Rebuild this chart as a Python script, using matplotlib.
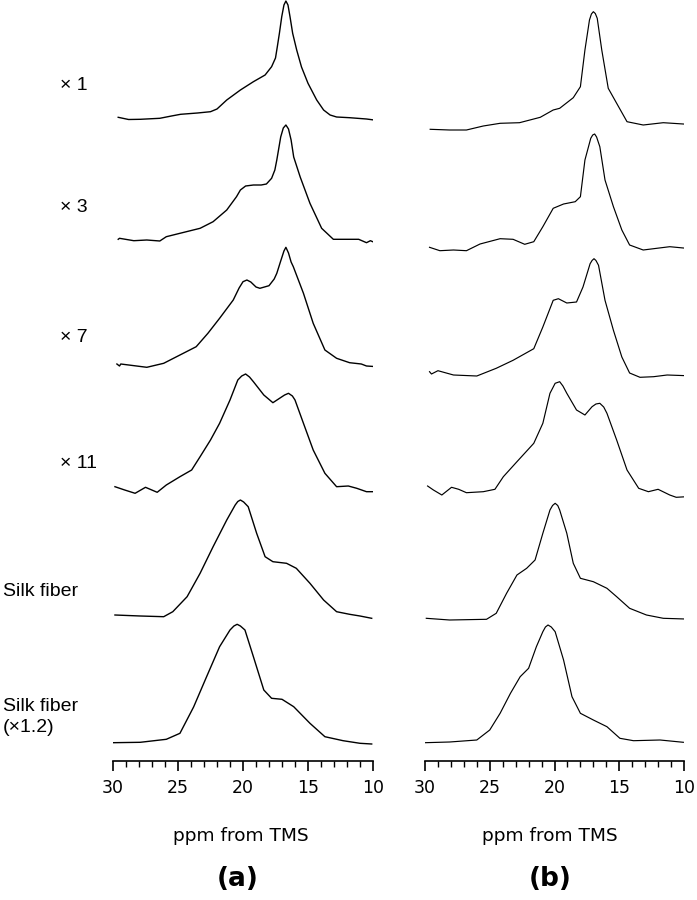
import numpy as np
import matplotlib.pyplot as plt

plt.rcParams['font.family'] = ['Liberation Sans', 'DejaVu Sans']

# spectra: chemical shift (ppm) and height above own baseline
a1_ppm = [29.6, 28.8, 27.9, 26.4, 25.5, 24.8, 23.5, 22.5, 22.0, 21.25, 20.2, 19.2, 18.3, 17.8,
          17.5, 17.36, 17.2, 17.02, 16.85, 16.7, 16.54, 16.38, 16.18, 15.87, 15.5, 15.0, 14.33,
          13.8, 13.3, 12.8, 11.8, 10.5, 9.5]
a1_int = [2.7, 0.5, 0.7, 1.7, 4, 5.7, 7, 8.3, 11, 20, 30, 38.3, 45, 53.3,
          62, 73.3, 86.7, 103.3, 115, 119, 115, 103, 86.7, 70, 53, 36.7, 20,
          10, 5, 3, 2.3, 1, -0.7]

a2_ppm = [29.6, 29.5, 28.4, 27.4, 26.4, 25.9, 24.85, 23.3, 22.3, 21.25, 20.5, 20.2, 19.8, 19.2,
          18.6, 18.2, 17.8, 17.55, 17.4, 17.1, 16.9, 16.7, 16.5, 16.3, 16.1, 15.6, 14.85, 13.95,
          13.05, 12.0, 11.1, 10.5, 10.2, 9.6]
a2_int = [0.7, 1.7, -0.7, 0, -1, 3.3, 6.7, 11.7, 18.3, 30, 43.3, 50, 54, 55,
          55, 56, 61.7, 70, 80, 103, 112, 115, 111, 100, 83, 63, 36.7, 11.7,
          0.7, 0.7, 0.7, -2.7, -0.7, -4]

a3_ppm = [29.7, 29.5, 29.4, 27.4, 26.1, 24.85, 23.6, 22.7, 21.8, 20.75, 20.3, 20.0, 19.7, 19.4,
          19.0, 18.7, 18.0, 17.6, 17.4, 17.1, 16.85, 16.7, 16.5, 16.3, 16.13, 15.35, 14.6, 13.7,
          12.8, 11.8, 10.9, 10.5, 9.7]
a3_int = [2, 0, 2, -1.3, 2.7, 11, 19.3, 32.7, 47.7, 66, 78, 84.3, 86, 84,
          79, 77.7, 80.3, 87, 92.7, 105, 115, 118.7, 113, 104, 99.3, 72.7, 42.7, 16,
          7.7, 3.3, 2, 0, -0.7]

a4_ppm = [29.85, 29.1, 28.3, 27.5, 26.6, 25.9, 24.85, 23.95, 23.3, 22.5, 21.8, 21.0, 20.4, 20.1,
          19.8, 19.5, 19.2, 18.4, 17.7, 17.0, 16.8, 16.5, 16.2, 16.0, 15.35, 14.6, 13.7, 12.8,
          11.9, 11.25, 10.5, 9.85]
a4_int = [3.3, 0, -3.3, 2.7, -2.3, 5, 13.3, 20, 33.3, 50, 66.7, 90, 110, 114,
          116, 113, 108.3, 95, 87.3, 93.3, 95, 96.7, 94, 90, 66.7, 40, 16.7, 3.3,
          4, 1.7, -1.7, -1.7]

a5_ppm = [29.85, 27.9, 26.1, 25.4, 24.3, 23.3, 22.3, 21.25, 20.6, 20.4, 20.2, 19.95, 19.6, 18.95,
          18.3, 17.7, 16.65, 15.9, 14.85, 13.8, 12.8, 11.8, 11.0, 10.1]
a5_int = [0, -1, -1.7, 3.3, 18.3, 41.7, 68.3, 95, 110, 113.5, 115, 113, 108.3, 81.7,
          58.3, 53.3, 51.7, 46.7, 31.7, 15, 3.3, 0.7, -1, -3.3]

a6_ppm = [30.0, 27.9, 25.9, 24.85, 23.8, 22.8, 21.8, 21.0, 20.7, 20.45, 20.2, 19.85, 19.2, 18.4,
          17.8, 17.0, 16.1, 14.85, 13.7, 12.3, 11.0, 10.1]
a6_int = [0.3, 0.7, 3.7, 9.7, 36, 66.3, 96.3, 113, 117, 118.7, 117, 113, 86.3, 53,
          44.7, 43.7, 36.3, 19.7, 6.3, 2.3, -0.3, -1]

b1_ppm = [29.6, 28.1, 26.8, 25.5, 24.2, 22.7, 21.1, 20.1, 19.6, 18.55, 18.0, 17.65, 17.3, 17.15,
          17.0, 16.85, 16.7, 16.35, 15.85, 15.2, 14.4, 13.15, 11.6, 9.7]
b1_int = [-4.3, -5, -5, -1, 1.7, 2.3, 7.7, 15, 16.7, 27.3, 38.3, 75, 105, 111,
          113.3, 111.5, 106.7, 75, 36.7, 21.7, 3.3, 0, 2.3, 0.7]

b2_ppm = [29.65, 28.85, 27.8, 26.8, 25.75, 24.2, 23.2, 22.3, 21.6, 20.9, 20.1, 19.3, 18.4, 18.0,
          17.65, 17.2, 17.05, 16.9, 16.75, 16.5, 16.1, 15.45, 14.8, 14.2, 13.15, 12.1, 11.1, 9.8]
b2_int = [0.7, -2.7, -2, -2.7, 4, 9.3, 8.7, 3.7, 6.3, 21.3, 39.7, 44, 46.3, 51.3,
          88, 109.7, 113, 114, 111, 101.3, 68, 41.3, 18, 3, -2, -0.3, 1.3, -0.3]

b3_ppm = [29.65, 29.5, 29.0, 27.8, 26.0, 24.5, 23.2, 21.6, 20.9, 20.1, 19.7, 19.05, 18.3, 17.8,
          17.25, 17.1, 16.95, 16.8, 16.6, 16.1, 15.45, 14.8, 14.2, 13.4, 12.35, 11.3, 9.8]
b3_int = [4.3, 2, 5.3, 1, 0, 7.7, 15.7, 27.3, 49, 75.7, 77.3, 73, 74, 89,
          112.3, 115.5, 117.3, 115.5, 110.7, 75.7, 45.7, 19, 3, -1.3, -0.7, 1, 0.3]

b4_ppm = [29.8, 29.35, 28.7, 27.95, 27.4, 26.8, 25.5, 24.6, 23.95, 22.9, 21.6, 20.9, 20.35, 19.95,
          19.6, 19.35, 19.05, 18.3, 17.65, 17.1, 16.8, 16.5, 16.2, 15.95, 15.2, 14.4, 13.5, 12.75,
          12.0, 11.1, 10.6, 9.8]
b4_int = [5, 1, -4, 3.7, 1.7, -1.7, -0.7, 1.7, 14.3, 29.3, 47.7, 67.7, 97.7, 107.7,
          109.3, 105, 97.7, 81, 76, 84.3, 87, 87.7, 84, 77.7, 51, 21, 2.7, -0.7,
          1.7, -4, -6.3, -5.7]

b5_ppm = [29.9, 28.1, 25.25, 24.5, 23.7, 22.9, 22.15, 21.5, 20.9, 20.35, 20.15, 19.95, 19.75, 19.6,
          19.05, 18.55, 18.0, 17.0, 15.95, 15.2, 14.2, 12.9, 11.6, 9.9]
b5_int = [0.7, -1, -0.3, 5.7, 25.7, 44, 50.7, 59, 85.7, 109, 113.5, 115.7, 113.5, 109,
          85.7, 55.7, 40.7, 37.3, 30.7, 22.3, 10.7, 4, 0.7, 0]

b6_ppm = [30.0, 28.1, 26.0, 25.0, 24.2, 23.4, 22.65, 22.0, 21.4, 20.9, 20.7, 20.5, 20.25, 19.95,
          19.3, 18.65, 18.0, 17.0, 15.95, 14.95, 13.9, 11.85, 10.05]
b6_int = [-0.7, 0, 2, 12, 28.7, 48.7, 65.3, 73.7, 95.3, 110.3, 115, 117, 115, 110.3,
          82, 45.3, 28.7, 22, 15.3, 3.7, 1.3, 2, -0.3]

labels = ["× 1", "× 3", "× 7", "× 11", "Silk fiber", "Silk fiber\n(×1.2)"]

# stacking: baseline of each trace, pixels down from the top of the figure
offsets_a = [120, 240, 366, 490, 615, 743]
offsets_b = [125, 248, 376, 491, 619, 742]

fig = plt.figure(figsize=(6.97, 9.0), dpi=100)
W, H = 697.0, 900.0
spine_y = 761.0

ax_a = fig.add_axes([113 / W, (H - spine_y) / H, 260 / W, spine_y / H])
ax_b = fig.add_axes([425 / W, (H - spine_y) / H, 259 / W, spine_y / H])

panels = [
    (ax_a, [(a1_ppm, a1_int), (a2_ppm, a2_int), (a3_ppm, a3_int),
            (a4_ppm, a4_int), (a5_ppm, a5_int), (a6_ppm, a6_int)], offsets_a, 1.0),
    (ax_b, [(b1_ppm, b1_int), (b2_ppm, b2_int), (b3_ppm, b3_int),
            (b4_ppm, b4_int), (b5_ppm, b5_int), (b6_ppm, b6_int)], offsets_b, 0.85),
]

for ax, spectra, offs, lw in panels:
    for (ppm, inten), off in zip(spectra, offs):
        ax.plot(ppm, spine_y - off + np.array(inten), color='black', lw=lw,
                solid_joinstyle='round')
    ax.set_xlim(30, 10)
    ax.set_ylim(0, spine_y)
    for s in ['top', 'left', 'right']:
        ax.spines[s].set_visible(False)
    ax.spines['bottom'].set_linewidth(1.2)
    ax.set_yticks([])
    ax.set_xticks([30, 25, 20, 15, 10])
    ax.set_xticks(np.arange(10, 31, 1), minor=True)
    ax.tick_params(axis='x', which='major', direction='out', length=7, width=1.2,
                   labelsize=12.5, pad=6)
    ax.tick_params(axis='x', which='minor', direction='out', length=4.5, width=1.0)
    for t in ax.get_xticklabels():
        t.set_family('DejaVu Sans')
    ax.patch.set_visible(False)

# trace labels on the left
label_y = [86, 208, 337, 463, 591, 717]
for lab, y in zip(labels, label_y):
    if lab.startswith("×"):
        fig.text(60 / W, 1 - y / H, lab, fontsize=14, ha='left', va='center')
    else:
        fig.text(3 / W, 1 - y / H, lab, fontsize=14, ha='left', va='center', linespacing=1.3)

fig.text(241 / W, 1 - 836 / H, "ppm from TMS", fontsize=13.3, family='DejaVu Sans',
         ha='center', va='center')
fig.text(550 / W, 1 - 836 / H, "ppm from TMS", fontsize=13.3, family='DejaVu Sans',
         ha='center', va='center')
fig.text(238 / W, 1 - 879 / H, "(a)", fontsize=19, fontweight='bold', family='DejaVu Sans',
         ha='center', va='center')
fig.text(550 / W, 1 - 879 / H, "(b)", fontsize=19, fontweight='bold', family='DejaVu Sans',
         ha='center', va='center')

fig.savefig("out.png", dpi=100)
